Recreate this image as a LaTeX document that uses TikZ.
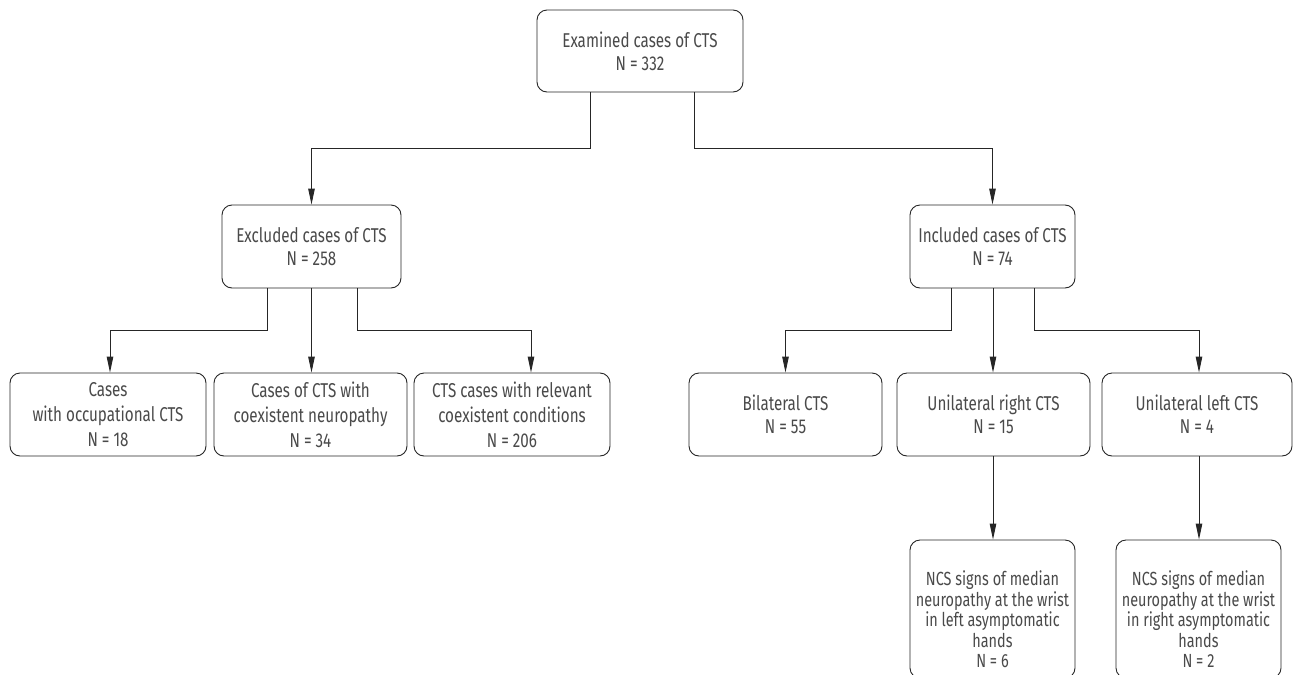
\documentclass[tikz,border=0pt]{standalone}
\usepackage{fontspec}
\setmainfont{Fira Sans}[FakeStretch=0.76]
\usetikzlibrary{arrows.meta,positioning}
\definecolor{txtgray}{HTML}{4A4A4A}
\definecolor{linegray}{HTML}{262626}
\begin{document}
\begin{tikzpicture}[x=1pt,y=-1pt,
  box/.style={draw=linegray, line width=0.9pt, rounded corners=10pt, inner sep=0pt,
    align=center, text=txtgray, font=\fontsize{20}{23}\selectfont},
  rowbox/.style={box, minimum height=83pt, font=\fontsize{20}{25}\selectfont},
  ncsbox/.style={draw=linegray, line width=0.9pt, rounded corners=10pt, inner sep=0pt, minimum width=165pt, minimum height=138pt},
  ncstext/.style={align=center, text=txtgray, inner sep=0pt, font=\fontsize{19}{20.5}\selectfont},
  arr/.style={draw=linegray, line width=0.9pt, -{Triangle[length=16pt,width=6.5pt]}}]
\clip (0,0) rectangle (1294,675);
\fill[white] (0,0) rectangle (1294,675);

% top
\node[box, minimum width=206pt, minimum height=82pt] (top) at (640,51) {Examined cases of CTS\\N = 332};

% second level
\node[box, minimum width=179pt, minimum height=83pt] (exc) at (311.5,246.5) {Excluded cases of CTS\\N = 258};
\node[box, minimum width=165pt, minimum height=83pt] (inc) at (992.5,246.5) {Included cases of CTS\\N = 74};

% third level
\node[rowbox, minimum width=196pt] (occ) at (108,414.5) {Cases\\with occupational CTS\\N = 18};
\node[rowbox, minimum width=193pt] (neu) at (310.5,414.5) {Cases of CTS with\\coexistent neuropathy\\N = 34};
\node[rowbox, minimum width=196pt] (rel) at (512,414.5) {CTS cases with relevant\\coexistent conditions\\N = 206};

\node[box, minimum width=193pt, minimum height=83pt] (bil) at (785.5,414.5) {Bilateral CTS\\N = 55};
\node[box, minimum width=193pt, minimum height=83pt] (unr) at (993.5,414.5) {Unilateral right CTS\\N = 15};
\node[box, minimum width=190pt, minimum height=83pt] (unl) at (1197,414.5) {Unilateral left CTS\\N = 4};

% fourth level
\node[ncsbox] (ncsl) at (992.5,609) {};
\node[ncstext, anchor=north] (ncslt) at ([yshift=-31pt]ncsl.north) {NCS signs of median\\neuropathy at the wrist\\in left asymptomatic\\hands\\N = 6};
\node[ncsbox] (ncsr) at (1198.5,609) {};
\node[ncstext, anchor=north] (ncsrt) at ([yshift=-31pt]ncsr.north) {NCS signs of median\\neuropathy at the wrist\\in right asymptomatic\\hands\\N = 2};

% connectors from top
\draw[arr] ([xshift=-50pt]top.south) -- ++(0,-56pt) -| (exc.north);
\draw[arr] ([xshift=54pt]top.south) -- ++(0,-56pt) -| (inc.north);

% connectors from excluded
\draw[arr] ([xshift=-44.5pt]exc.south) -- ++(0,-42pt) -| ([xshift=2pt]occ.north);
\draw[arr] (exc.south) -- (exc.south |- neu.north);
\draw[arr] ([xshift=45.5pt]exc.south) -- ++(0,-42pt) -| ([xshift=19pt]rel.north);

% connectors from included
\draw[arr] ([xshift=-41.5pt]inc.south) -- ++(0,-42pt) -| (bil.north);
\draw[arr] ([xshift=0.5pt]inc.south) -- ([xshift=0.5pt]inc.south |- unr.north);
\draw[arr] ([xshift=41.5pt]inc.south) -- ++(0,-42pt) -| ([xshift=2pt]unl.north);

% to NCS boxes
\draw[arr] ([xshift=-0.5pt]unr.south) -- ([xshift=-0.5pt]unr.south |- ncsl.north);
\draw[arr] ([xshift=2pt]unl.south) -- ([xshift=2pt]unl.south |- ncsr.north);
\end{tikzpicture}
\end{document}
